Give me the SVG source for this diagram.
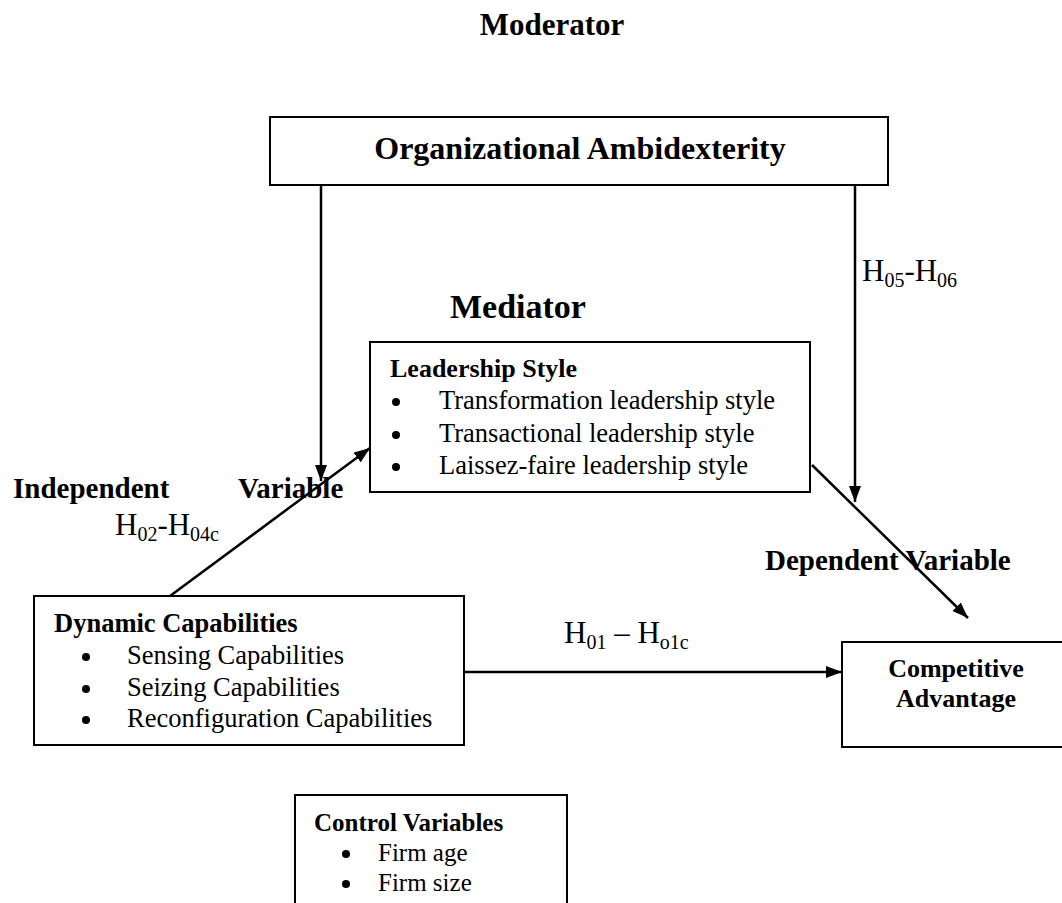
<svg xmlns="http://www.w3.org/2000/svg" width="1062" height="903" viewBox="0 0 1062 903">
<style>
.box{fill:#fff;stroke:#000;stroke-width:2}
.ln{fill:none;stroke:#000;stroke-width:2.5}
text{font-family:"Liberation Serif","Times New Roman",serif;fill:#000}
.b{font-weight:bold}
.li{font-size:26.5px}
.h{font-size:31px}
.sub{font-size:20px}
</style>
<defs>
<marker id="ah" viewBox="0 0 16 12" refX="16" refY="6" markerWidth="16" markerHeight="12" orient="auto" markerUnits="userSpaceOnUse">
<path d="M0,0 L16,6 L0,12 z" fill="#000"/>
</marker>
</defs>

<text class="b" x="552" y="35" font-size="31" text-anchor="middle">Moderator</text>

<g id="connectors">
<line class="ln" x1="321" y1="185" x2="321" y2="481" marker-end="url(#ah)"/>
<line class="ln" x1="855" y1="185" x2="855" y2="502" marker-end="url(#ah)"/>
<line class="ln" x1="170" y1="596" x2="370" y2="448" marker-end="url(#ah)"/>
<line class="ln" x1="464" y1="672" x2="842" y2="672" marker-end="url(#ah)"/>
<line class="ln" x1="812" y1="465" x2="968" y2="618" marker-end="url(#ah)"/>
</g>

<g id="moderator">
<rect class="box" x="270" y="117" width="618" height="68"/>
<text class="b" x="580" y="159" font-size="32" text-anchor="middle">Organizational Ambidexterity</text>
</g>

<text x="862" y="281" class="h">H<tspan class="sub" dy="6">05</tspan><tspan dy="-6">-H</tspan><tspan class="sub" dy="6">06</tspan></text>

<text class="b" x="450" y="318" font-size="34">Mediator</text>

<g id="mediator">
<rect class="box" x="370" y="342" width="440" height="150"/>
<text class="b" x="390" y="377" font-size="26">Leadership Style</text>
<circle cx="396" cy="402" r="4"/>
<text class="li" x="439" y="409">Transformation leadership style</text>
<circle cx="396" cy="435" r="4"/>
<text class="li" x="439" y="442">Transactional leadership style</text>
<circle cx="396" cy="467" r="4"/>
<text class="li" x="439" y="474">Laissez-faire leadership style</text>
</g>

<text class="b" x="13" y="498" font-size="29">Independent</text>
<text class="b" x="238" y="498" font-size="29">Variable</text>
<text x="115" y="535" class="h">H<tspan class="sub" dy="6">02</tspan><tspan dy="-6">-H</tspan><tspan class="sub" dy="6">04c</tspan></text>

<g id="independent">
<rect class="box" x="34" y="596" width="430" height="149"/>
<text class="b" x="54" y="632" font-size="26.5">Dynamic Capabilities</text>
<circle cx="86" cy="657" r="4"/>
<text class="li" x="127" y="664">Sensing Capabilities</text>
<circle cx="86" cy="689" r="4"/>
<text class="li" x="127" y="696">Seizing Capabilities</text>
<circle cx="86" cy="720" r="4"/>
<text class="li" x="127" y="727">Reconfiguration Capabilities</text>
</g>

<text x="564" y="643" class="h">H<tspan class="sub" dy="6">01</tspan><tspan dy="-6"> – H</tspan><tspan class="sub" dy="6">o1c</tspan></text>

<text class="b" x="765" y="570" font-size="29">Dependent Variable</text>

<g id="dependent">
<rect class="box" x="842" y="642" width="240" height="105"/>
<text class="b" x="956" y="677" font-size="26" text-anchor="middle">Competitive</text>
<text class="b" x="956" y="707" font-size="26" text-anchor="middle">Advantage</text>
</g>

<g id="control">
<rect class="box" x="295" y="795" width="272" height="130"/>
<text class="b" x="314" y="831" font-size="25">Control Variables</text>
<circle cx="346" cy="854" r="4"/>
<text x="378" y="861" font-size="25">Firm age</text>
<circle cx="346" cy="884" r="4"/>
<text x="378" y="891" font-size="25">Firm size</text>
</g>
</svg>
